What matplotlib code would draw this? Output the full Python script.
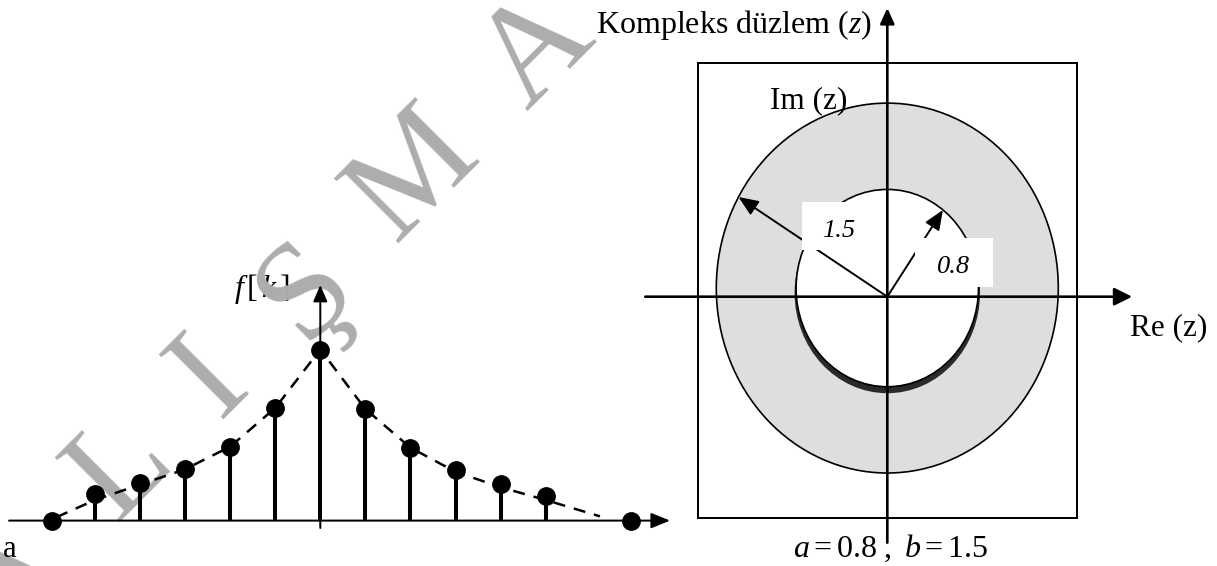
import math
import matplotlib
matplotlib.use("Agg")
import matplotlib.pyplot as plt
from matplotlib import transforms as mtransforms
from matplotlib.patches import Ellipse, Rectangle, ArrowStyle

plt.rcParams['font.family'] = ['Liberation Serif', 'DejaVu Serif']
plt.rcParams['mathtext.fontset'] = 'custom'
plt.rcParams['mathtext.rm'] = 'Liberation Serif'
plt.rcParams['mathtext.it'] = 'Liberation Serif:italic'
plt.rcParams['mathtext.bf'] = 'Liberation Serif:bold'

# ---- two-sided sequence f[k] ----
k_values = [-5, -4, -3, -2, -1, 0, 1, 2, 3, 4, 5]
f_values = [0.156, 0.222, 0.300, 0.432, 0.658, 1.0, 0.652, 0.426, 0.293, 0.211, 0.141]
end_k = [-5.94, 6.89]
end_f = [0.0, 0.0]
envelope_k = [-5.85, -5, -4, -3, -2, -1, 0, 1, 2, 3, 4, 5, 6.2]
envelope_f = [0.02, 0.12, 0.21, 0.30, 0.432, 0.658, 1.0, 0.652, 0.426, 0.285, 0.195, 0.12, 0.025]

# ---- region of convergence in the z-plane ----
a_radius = 0.8
b_radius = 1.5
radius_labels = ['0.8', '1.5']
watermark_letters = ['A', 'L', 'I', 'Ş', 'M', 'A']

W, H = 1217, 566
fig = plt.figure(figsize=(W / 100, H / 100), dpi=100)
fig.patch.set_facecolor('white')

# pixel coordinates measured from the top-left corner
PX = mtransforms.Affine2D().scale(1 / W, -1 / H).translate(0, 1) + fig.transFigure

# stem plot axes: k spacing and f scale in pixels
X0, DX = 320.3, 45.1
Y0, DY = 520.6, 171.1
ax1 = fig.add_axes([0, 0, 1, 1])
ax1.set_xlim(-X0 / DX, (W - X0) / DX)
ax1.set_ylim((Y0 - H) / DY, Y0 / DY)
ax1.axis('off')
ax1.patch.set_alpha(0)

# complex plane axes
OX, OY = 887.3, 296.7
SX, SY = 114.0, 123.3
ax2 = fig.add_axes([0, 0, 1, 1])
ax2.set_xlim(-OX / SX, (W - OX) / SX)
ax2.set_ylim((OY - H) / SY, OY / SY)
ax2.axis('off')
ax2.patch.set_alpha(0)


def arrow(ax, start, tip, lw, hl, hw, z):
    ax.annotate('', xy=tip, xytext=start, xycoords='data', textcoords='data',
                arrowprops=dict(arrowstyle=ArrowStyle('-|>', head_length=hl, head_width=hw),
                                mutation_scale=1, lw=lw, color='black',
                                shrinkA=0, shrinkB=0),
                zorder=z)


# ---------------- left: f[k] ----------------
ax1.text(234, 297, r'$f\,[\,k\,]$', transform=PX, fontsize=23, zorder=1)

wm_pos = [(30, 606), (146, 492), (235, 403), (331, 315), (439, 199), (562, 76)]
for ch, (x, y) in zip(watermark_letters, wm_pos):
    ax1.text(x, y, ch, transform=PX, rotation=45, rotation_mode='anchor',
             ha='center', va='baseline', fontsize=100, color='#adadad', zorder=2)

ax1.text(3, 557, 'a', transform=PX, fontsize=22, zorder=5)

arrow(ax1, (-6.90, 0), (7.754, 0), 1.44, 11.5, 4.7, 3)
arrow(ax1, (0, -0.043), (0, 1.377), 1.44, 10.0, 4.3, 3)
ax1.plot(envelope_k, envelope_f, color='black', lw=1.8, ls=(0, (4.8, 3.6)), zorder=3)
ax1.vlines(k_values, 0, f_values, colors='black', lw=2.9, zorder=3)
ax1.plot(k_values, f_values, 'o', color='black', ms=12.5, zorder=4)
ax1.plot(end_k, end_f, 'o', color='black', ms=12.5, zorder=4)

# ---------------- right: z-plane ----------------
cy = 0.07
ax2.add_patch(Rectangle((-1.657, -1.797), 3.318, 3.695, fill=False, ec='black', lw=1.44, zorder=1))
ax2.add_patch(Ellipse((0, cy), 2 * b_radius, 2 * b_radius, fc='#dedede', ec='black', lw=1.2, zorder=2))
# dark rim under the lower half of the inner circle
ax2.add_patch(Ellipse((0, cy - 5 / SY), 2 * a_radius + 3 / SX, 2 * a_radius + 3 / SY,
                      fc='#2a2a2a', ec='none', zorder=3))
ax2.add_patch(Ellipse((0, cy), 2 * a_radius, 2 * a_radius, fc='white', ec='black', lw=1.2, zorder=4))

arrow(ax2, (-2.123, 0), (2.147, 0), 1.9, 10.8, 5.4, 5)
arrow(ax2, (0, -1.995), (0, 2.341), 1.9, 9.4, 4.3, 5)

for r, ang in [(b_radius, 150.5), (a_radius, 52.4)]:
    tip = (r * math.cos(math.radians(ang)), cy + r * math.sin(math.radians(ang)))
    arrow(ax2, (0, 0), tip, 1.4, 12.0, 5.0, 5)

ax2.add_patch(Rectangle((802, 202), 83, 48, transform=PX, fc='white', ec='none', zorder=6))
ax2.add_patch(Rectangle((915, 238), 78, 49, transform=PX, fc='white', ec='none', zorder=6))
ax2.text(838.5, 237, radius_labels[1], transform=PX, style='italic', fontsize=19,
         ha='center', va='baseline', zorder=7)
ax2.text(953.5, 273, radius_labels[0], transform=PX, style='italic', fontsize=19,
         ha='center', va='baseline', zorder=7)

ax2.text(596, 33, 'Kompleks düzlem ($z$)', transform=PX, fontsize=23, va='baseline', zorder=7)
ax2.text(770, 108, 'Im (z)', transform=PX, fontsize=22.5, va='baseline', zorder=7)
ax2.text(1130, 335, 'Re (z)', transform=PX, fontsize=22.5, va='baseline', zorder=7)
ax2.text(891, 557, r'$a = 0.8\ ,\ b = 1.5$', transform=PX, fontsize=23,
         ha='center', va='baseline', zorder=7)

fig.savefig('out.png', dpi=100, facecolor='white')
